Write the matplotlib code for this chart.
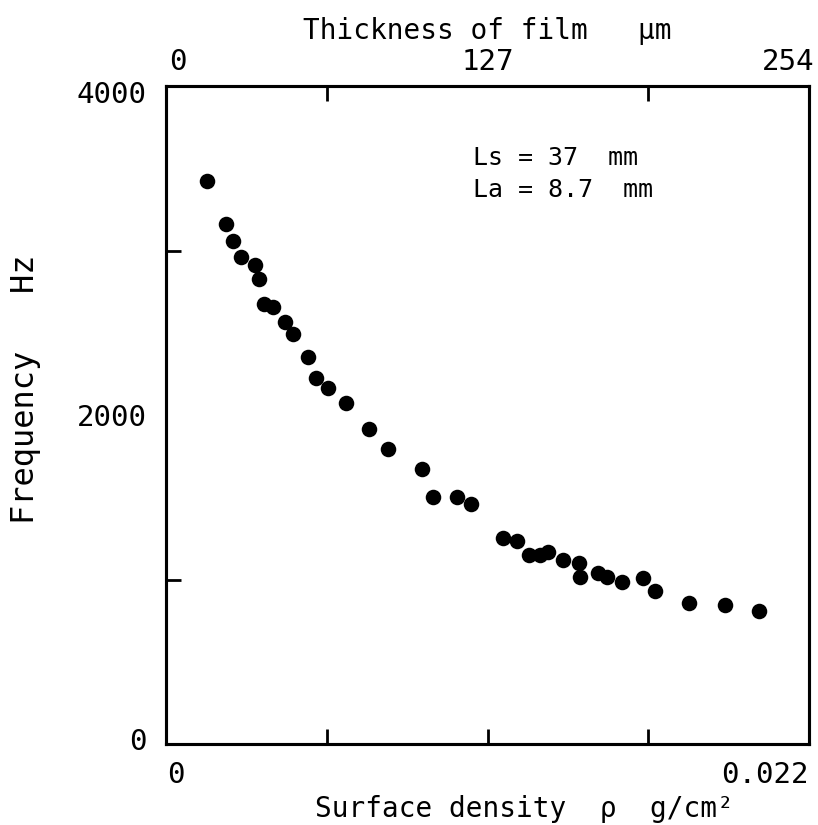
import matplotlib
matplotlib.use("Agg")
import matplotlib.pyplot as plt
import matplotlib.transforms as mtransforms

# ---- data ----
surface_density = [0.00139, 0.00204, 0.00228, 0.00256, 0.00305, 0.00319, 0.00336, 0.00365,
                   0.00408, 0.00436, 0.00485, 0.00512, 0.00553, 0.00616, 0.00694, 0.00761,
                   0.00877, 0.00915, 0.00995, 0.01043, 0.01154, 0.01202, 0.01243, 0.01280,
                   0.01308, 0.01359, 0.01414, 0.01417, 0.01479, 0.01510, 0.01559, 0.01633,
                   0.01673, 0.01790, 0.01913, 0.02030]
frequency = [3424, 3161, 3060, 2959, 2912, 2827, 2675, 2658,
             2563, 2492, 2351, 2223, 2166, 2070, 1915, 1791,
             1670, 1500, 1503, 1457, 1250, 1236, 1149, 1149,
             1169, 1119, 1102, 1017, 1038, 1017, 987, 1007,
             930, 855, 845, 809]

x_limits = [0, 0.022]
x_tick_values = [0, 0.022]
x_tick_labels = ["0", "0.022"]
x_minor_ticks = [0.0055, 0.011, 0.0165]

top_limits = [0, 254]
top_tick_values = [0, 127, 254]
top_tick_labels = ["0", "127", "254"]
top_minor_ticks = [63.5, 127, 190.5]

y_limits = [0, 4000]
y_tick_values = [0, 2000, 4000]
y_tick_labels = ["0", "2000", "4000"]
y_minor_ticks = [1000, 2000, 3000]

annotation_lines = ["Ls = 37  mm", "La = 8.7  mm"]

# ---- figure ----
plt.rcParams['font.family'] = ['DejaVu Sans Mono', 'DejaVu Sans']
fig = plt.figure(figsize=(8.18, 8.25), dpi=100)
ax = fig.add_axes([166 / 818, 81 / 825, 643 / 818, 658 / 825])

ax.scatter(surface_density, frequency, s=125, color='black', zorder=3, linewidths=0)

ax.set_xlim(*x_limits)
ax.set_ylim(*y_limits)

for sp in ax.spines.values():
    sp.set_linewidth(2.2)

tick_fs = 21
ax.set_xticks(x_tick_values)
ax.set_xticklabels(x_tick_labels, fontsize=tick_fs)
ax.set_xticks(x_minor_ticks, minor=True)
ax.set_yticks(y_tick_values)
ax.set_yticklabels(y_tick_labels, fontsize=tick_fs)
ax.set_yticks(y_minor_ticks, minor=True)
ax.tick_params(axis='both', which='major', length=0, pad=12)
ax.tick_params(axis='both', which='minor', direction='in', length=11, width=2.0)
ax.tick_params(axis='y', which='major', pad=14)

ax2 = ax.twiny()
ax2.set_xlim(*top_limits)
ax2.set_xticks(top_tick_values)
ax2.set_xticklabels(top_tick_labels, fontsize=tick_fs)
ax2.set_xticks(top_minor_ticks, minor=True)
ax2.tick_params(axis='x', which='major', length=0, pad=7)
ax2.tick_params(axis='x', which='minor', direction='in', length=11, width=2.0)
for sp in ax2.spines.values():
    sp.set_linewidth(2.2)

def shift(label, dx_px, dy_px):
    label.set_transform(label.get_transform() +
                        mtransforms.Affine2D().translate(dx_px, dy_px))

xl = ax.get_xticklabels()
shift(xl[0], 10, 0)
xl[-1].set_horizontalalignment('right')
tl = ax2.get_xticklabels()
shift(tl[0], 12, 0)
shift(tl[-1], -21, 0)
yl = ax.get_yticklabels()
shift(yl[0], 0, 5)
shift(yl[-1], 0, -6)

ax.set_xlabel("Surface density  \u03c1  g/cm\u00b2", fontsize=20, labelpad=4)
ax.xaxis.set_label_coords(0.5575, -0.077)
ax2.set_xlabel("Thickness of film   \u00b5m", fontsize=20, labelpad=7)
ax.set_ylabel("Frequency   Hz", fontsize=23)
ax.yaxis.set_label_coords(-0.195, 0.5395)

ax.text(0.4774, 0.891, annotation_lines[0], transform=ax.transAxes,
        fontsize=18, ha='left', va='center')
ax.text(0.4774, 0.842, annotation_lines[1], transform=ax.transAxes,
        fontsize=18, ha='left', va='center')

fig.savefig("out.png", dpi=100)
